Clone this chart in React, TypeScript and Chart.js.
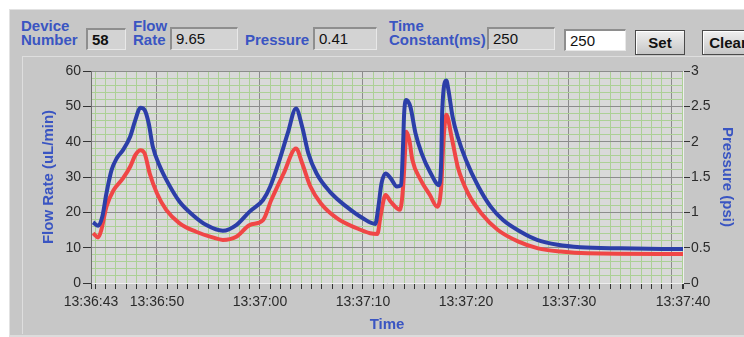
import React, { useEffect, useRef } from 'react';
import { Chart, registerables } from 'chart.js';

Chart.register(...registerables);

// ---- data (seconds after 13:36:00) ----
const flowTimes = [43.8, 44.3, 44.7, 45.1, 45.6, 46.1, 46.7, 47.4, 47.9, 48.4, 48.8, 49.2, 49.6, 50.3, 51.1, 52.2, 53.5, 54.8, 56.4, 57.7, 59, 60.3, 61, 61.9, 62.7, 63.5, 64.1, 64.7, 65.5, 66.8, 68.4, 70, 71.2, 71.5, 71.8, 72.2, 72.7, 73.3, 73.7, 73.9, 74, 74.2, 74.6, 75.1, 75.7, 76.5, 77.4, 77.6, 77.7, 78.1, 78.3, 78.7, 79.2, 80, 81.2, 82.4, 83.6, 85.3, 86.9, 88.9, 91.1, 95, 101.07];
const flowValues = [17.2, 16.2, 18.8, 25.4, 32, 35.3, 37.6, 41.4, 46.1, 49.6, 49, 45.2, 38.6, 32.9, 28.2, 23, 19.2, 16.4, 14.8, 16.4, 20.2, 23.5, 27.3, 34.8, 42.4, 49.4, 44.2, 36.7, 31, 25.8, 21.6, 18.3, 16.7, 21.6, 28.2, 31, 29.6, 27.3, 27.7, 39.5, 48, 51.8, 49.9, 42.4, 36.7, 31.5, 27.7, 34.8, 49, 57.3, 54.6, 47.1, 41.4, 34.8, 27.3, 21.6, 17.8, 14.5, 12.2, 10.8, 10.1, 9.8, 9.6];

const pressureTimes = [43.8, 44.3, 44.6, 45.1, 45.8, 46.7, 47.4, 47.9, 48.4, 48.8, 49.3, 50, 50.9, 52.2, 53.8, 55.4, 56.4, 57.7, 59, 60.3, 61.1, 62.3, 63.5, 64.1, 64.9, 65.9, 67.5, 69.4, 70.7, 71.4, 71.7, 72.2, 72.7, 73.6, 73.9, 74.1, 74.2, 74.5, 74.8, 75.6, 76.5, 77.2, 77.6, 77.8, 78.1, 78.6, 79.2, 80.2, 81.5, 83.1, 85.1, 87, 89.2, 91.8, 101.07];
const pressureValues = [0.705, 0.645, 0.75, 1.08, 1.315, 1.48, 1.645, 1.81, 1.88, 1.835, 1.55, 1.27, 1.035, 0.845, 0.725, 0.645, 0.61, 0.655, 0.82, 0.89, 1.175, 1.55, 1.905, 1.695, 1.365, 1.13, 0.915, 0.775, 0.705, 0.695, 0.94, 1.245, 1.15, 1.035, 1.365, 1.88, 2.14, 2.025, 1.74, 1.46, 1.245, 1.08, 1.365, 1.975, 2.38, 2.07, 1.645, 1.27, 0.985, 0.75, 0.585, 0.49, 0.445, 0.42, 0.41];

const xMin = 43.6;
const xMax = 101.07;
const xLabelSeconds = [50, 60, 70, 80, 90];
const xLabelTexts = ['13:36:50', '13:37:00', '13:37:10', '13:37:20', '13:37:30'];
const xStartLabel = '13:36:43';
const xEndLabel = '13:37:40';

const flowMax = 60;
const pressureMax = 3;

const FONT = "'Liberation Sans', Arial, sans-serif";
const BLUE_TEXT = '#3a55c2';
const MAJOR_GRID = '#8c8c8c';
const MINOR_GRID = '#acd096';
const TICK_TEXT = '#2b2b2b';

function xLabel(v: number): string {
  if (Math.abs(v - xMin) < 1e-6) return xStartLabel;
  if (Math.abs(v - xMax) < 1e-6) return xEndLabel;
  const i = xLabelSeconds.indexOf(v);
  return i >= 0 ? xLabelTexts[i] : '';
}

const isInt = (v: number) => Math.abs(v - Math.round(v)) < 1e-6;

function Label({ text, left, top }: { text: string; left: number; top: number }) {
  return (
    <div style={{ position: 'absolute', left, top, font: `bold 15px ${FONT}`, color: BLUE_TEXT, lineHeight: '15px', whiteSpace: 'nowrap' }}>{text}</div>
  );
}

function Box({ text, left, top, width, height, white, bold }: { text: string; left: number; top: number; width: number; height: number; white?: boolean; bold?: boolean }) {
  return (
    <div style={{
      position: 'absolute', left, top, width, height, boxSizing: 'border-box',
      background: white ? '#ffffff' : '#d3d3d3',
      borderTop: '2px solid #8e8e8e', borderLeft: '2px solid #8e8e8e',
      borderBottom: '1px solid #e8e8e8', borderRight: '1px solid #e8e8e8',
      font: `${bold ? 'bold ' : ''}15px ${FONT}`, color: '#111', paddingLeft: 4,
      lineHeight: `${height - 3}px`, whiteSpace: 'nowrap',
    }}>{text}</div>
  );
}

function Button({ text, left, top, width, height }: { text: string; left: number; top: number; width: number; height: number }) {
  return (
    <div style={{
      position: 'absolute', left, top, width, height, boxSizing: 'border-box',
      background: 'linear-gradient(#f0f0f0, #c6c6c6)', border: '1px solid #4a4a4a',
      boxShadow: 'inset 1px 1px 0 #ffffff', font: `bold 15px ${FONT}`, color: '#111',
      textAlign: 'center', lineHeight: `${height - 2}px`,
    }}>{text}</div>
  );
}

export default function App() {
  const ref = useRef<HTMLCanvasElement>(null);

  useEffect(() => {
    const canvas = ref.current;
    if (!canvas) return;
    const bgPlugin = {
      id: 'plotBg',
      beforeDraw(chart: any) {
        const { ctx, chartArea } = chart;
        ctx.save();
        ctx.fillStyle = '#d9d9d9';
        ctx.fillRect(chartArea.left, chartArea.top, chartArea.right - chartArea.left, chartArea.bottom - chartArea.top);
        ctx.restore();
      },
    };
    const chart = new Chart(canvas, {
      type: 'line',
      data: {
        datasets: [
          {
            label: 'Flow Rate',
            data: flowTimes.map((t, i) => ({ x: t, y: flowValues[i] })),
            yAxisID: 'y',
            borderColor: '#2c3ea8',
            borderWidth: 4,
            pointRadius: 0,
            cubicInterpolationMode: 'monotone',
            order: 0,
          },
          {
            label: 'Pressure',
            data: pressureTimes.map((t, i) => ({ x: t, y: pressureValues[i] })),
            yAxisID: 'y1',
            borderColor: '#f04646',
            borderWidth: 4,
            pointRadius: 0,
            cubicInterpolationMode: 'monotone',
            order: 1,
          },
        ],
      },
      options: {
        animation: false,
        responsive: false,
        devicePixelRatio: 1,
        layout: { padding: { top: 14, left: 0, right: 0, bottom: 0 } },
        plugins: { legend: { display: false }, tooltip: { enabled: false } },
        scales: {
          x: {
            type: 'linear',
            min: xMin,
            max: xMax,
            afterBuildTicks: (s: any) => {
              const t: any[] = [{ value: xMin }];
              for (let i = Math.ceil(xMin); i <= Math.floor(xMax); i++) t.push({ value: i });
              t.push({ value: xMax });
              s.ticks = t;
            },
            afterFit: (s: any) => { s.height = 54; },
            grid: {
              color: (c: any) => (!isInt(c.tick.value) || c.tick.value % 10 === 0 ? MAJOR_GRID : MINOR_GRID),
              tickLength: 6,
              tickColor: '#333',
            },
            border: { color: '#efefef' },
            ticks: {
              autoSkip: false, maxRotation: 0, minRotation: 0, padding: 5,
              color: TICK_TEXT, font: { family: FONT, size: 14 },
              callback: (v: any) => xLabel(Number(v)),
            },
            title: { display: true, text: 'Time', color: BLUE_TEXT, font: { family: FONT, size: 15, weight: 'bold' }, padding: { top: 0, bottom: 3 } },
          },
          y: {
            type: 'linear',
            position: 'left',
            min: 0,
            max: flowMax,
            afterBuildTicks: (s: any) => {
              const t: any[] = [];
              for (let v = 0; v <= flowMax; v += 2) t.push({ value: v });
              s.ticks = t;
            },
            afterFit: (s: any) => { s.width = 91; },
            grid: {
              color: (c: any) => (c.tick.value % 10 === 0 ? MAJOR_GRID : MINOR_GRID),
              tickLength: 8,
              tickColor: (c: any) => (c.tick.value % 10 === 0 ? '#333' : 'rgba(0,0,0,0)'),
            },
            border: { color: '#707070' },
            ticks: {
              autoSkip: false,
              padding: 2, color: TICK_TEXT, font: { family: FONT, size: 14 },
              callback: (v: any) => (Number(v) % 10 === 0 ? String(v) : ''),
            },
            title: { display: true, text: 'Flow Rate (uL/min)', color: BLUE_TEXT, font: { family: FONT, size: 15, weight: 'bold' }, padding: { top: 40, bottom: 0 } },
          },
          y1: {
            type: 'linear',
            position: 'right',
            min: 0,
            max: pressureMax,
            afterBuildTicks: (s: any) => {
              const t: any[] = [];
              for (let k = 0; k <= pressureMax * 2; k++) t.push({ value: k / 2 });
              s.ticks = t;
            },
            afterFit: (s: any) => { s.width = 61; },
            grid: { drawOnChartArea: false, tickLength: 7, tickColor: '#333' },
            border: { color: '#efefef' },
            ticks: {
              autoSkip: false,
              padding: 1, color: TICK_TEXT, font: { family: FONT, size: 14 },
              callback: (v: any) => String(v),
            },
            title: { display: true, text: 'Pressure (psi)', color: BLUE_TEXT, font: { family: FONT, size: 15, weight: 'bold' }, padding: { top: 8, bottom: 0 } },
          },
        },
      } as any,
      plugins: [bgPlugin],
    });
    return () => chart.destroy();
  }, []);

  return (
    <div style={{ position: 'fixed', left: 0, top: 0, width: 744, height: 337, background: '#ffffff', overflow: 'hidden', fontFamily: FONT }}>
      <div style={{ position: 'absolute', left: 9, top: 9, width: 735, height: 328, boxSizing: 'border-box', background: '#c7c7c7', borderTop: '1px solid #e2e2e2', borderLeft: '1px solid #e2e2e2', borderBottom: '2px solid #dcdcdc' }} />
      <div style={{ position: 'absolute', left: 22, top: 56, width: 722, height: 278, boxSizing: 'border-box', borderTop: '1px solid #dedede', borderLeft: '1px solid #dedede' }} />

      <Label text="Device" left={21} top={18} />
      <Label text="Number" left={21} top={32} />
      <Box text="58" left={86} top={28} width={40} height={22} bold />

      <Label text="Flow" left={133} top={18} />
      <Label text="Rate" left={133} top={32} />
      <Box text="9.65" left={170} top={27} width={68} height={23} />

      <Label text="Pressure" left={245} top={32} />
      <Box text="0.41" left={313} top={27} width={64} height={23} />

      <Label text="Time" left={389} top={18} />
      <Label text="Constant(ms)" left={389} top={32} />
      <Box text="250" left={487} top={27} width={68} height={23} />
      <Box text="250" left={564} top={29} width={62} height={22} white />

      <Button text="Set" left={635} top={30} width={50} height={25} />
      <Button text="Clear" left={702} top={30} width={52} height={25} />

      <canvas ref={ref} width={744} height={280} style={{ position: 'absolute', left: 0, top: 57, width: 744, height: 280 }} />
    </div>
  );
}
